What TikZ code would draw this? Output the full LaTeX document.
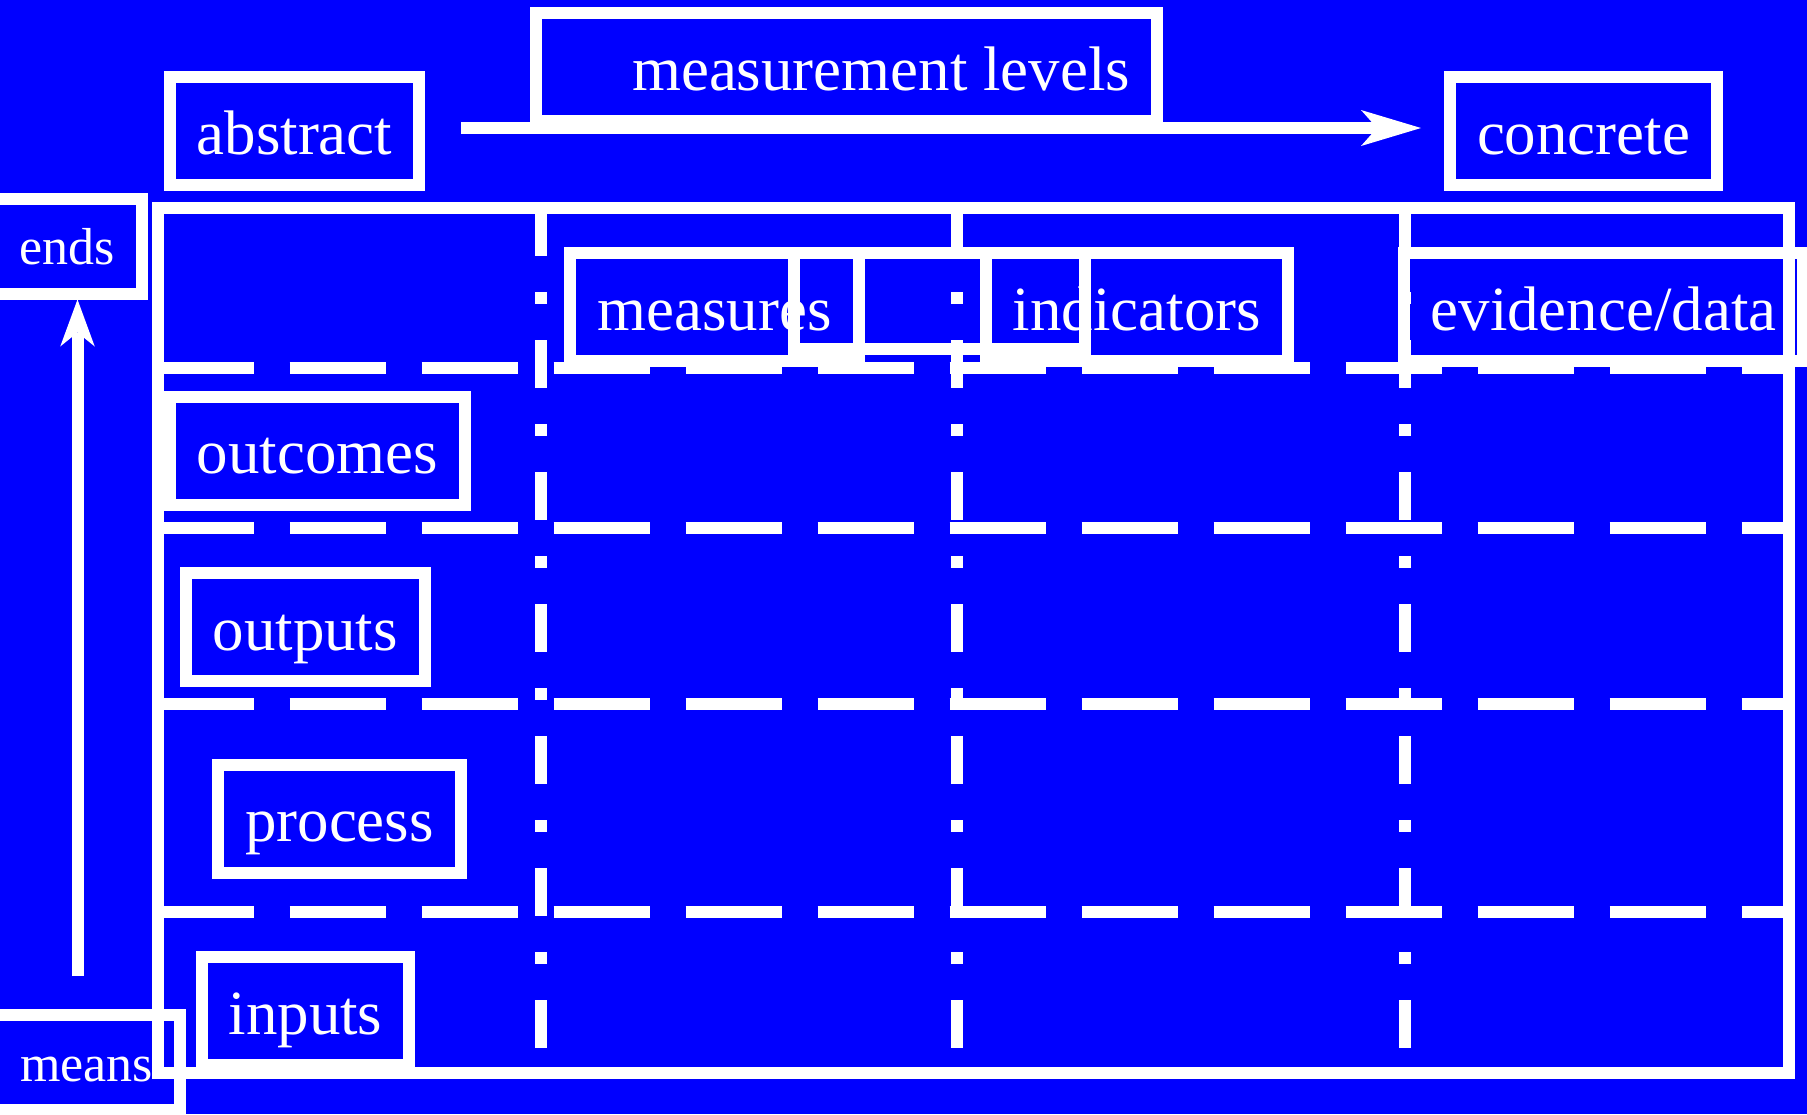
\documentclass[tikz,border=0pt]{standalone}
\usepackage{fontspec}
\setmainfont{Liberation Serif}
\usetikzlibrary{arrows.meta}
\tikzset{
	box/.style={draw=white, line width=0.12cm, text=white, inner xsep=0.27cm, inner ysep=0pt, outer sep=0.06cm, minimum height=1.08cm, text height=0.5cm, text depth=0.04cm, font=\fontsize{17.9}{21}\selectfont},
	smallbox/.style={box, minimum height=0.95cm, text height=0.41cm, font=\fontsize{14.8}{18}\selectfont},
	frameline/.style={white, line width=0.12cm},
	rowsep/.style={frameline, dash pattern=on 0.96cm off 0.36cm},
	colsep/.style={frameline, dash pattern=on 0.48cm off 0.36cm on 0.12cm off 0.36cm},
}
\begin{document}
\begin{tikzpicture}
			\fill [blue] (0,0) rectangle (18.07,-11.14);
			\useasboundingbox (0,0) rectangle (18.07,-11.14);
			\draw [frameline] (1.575,-2.08) rectangle (17.89,-10.725);
			\foreach \y in {3.68,5.28,7.04,9.12}
				\draw [rowsep] (1.575,-\y) -- (17.89,-\y);
			\foreach \x in {5.41,9.57,14.05}
				\draw [colsep] (\x,-2.08) -- (\x,-10.725);
			\node [box, text width=5.67cm, align=flush right] (levels) at (8.465,-0.67) {measurement levels};
			\node [box] (abstract) at (2.945,-1.31) {abstract};
			\node [box] (concrete) at (15.835,-1.31) {concrete};
			\node [smallbox] (ends) at (0.675,-2.46) {ends};
			\node [smallbox] (means) at (0.865,-10.625) {means};
			\node [box] (measures) at (7.145,-3.07) {measures};
			\node [box, minimum width=2.91cm, minimum height=0.96cm] (midbox) at (9.395,-3.01) {};
			\node [box] (indicators) at (11.37,-3.07) {indicators};
			\node [box] (evidence) at (16.035,-3.07) {evidence/data};
			\node [box] (outcomes) at (3.175,-4.505) {outcomes};
			\node [box] (outputs) at (3.053,-6.27) {outputs};
			\node [box] (process) at (3.395,-8.185) {process};
			\node [box] (inputs) at (3.055,-10.11) {inputs};
			\coordinate (foot) at (0.775,-9.76);
			\draw [frameline, shorten <=0.36cm, shorten >=0.23cm, -{Stealth[length=0.6cm, width=0.36cm, inset=0.16cm, line width=0pt]}] ([yshift=0.03cm]abstract.east) -- ([yshift=0.03cm]concrete.west);
			\draw [frameline, -{Stealth[length=0.47cm, width=0.345cm, inset=0.14cm, line width=0pt]}] (foot) -- (foot |- ends.south);
	\end{tikzpicture}
\end{document}
